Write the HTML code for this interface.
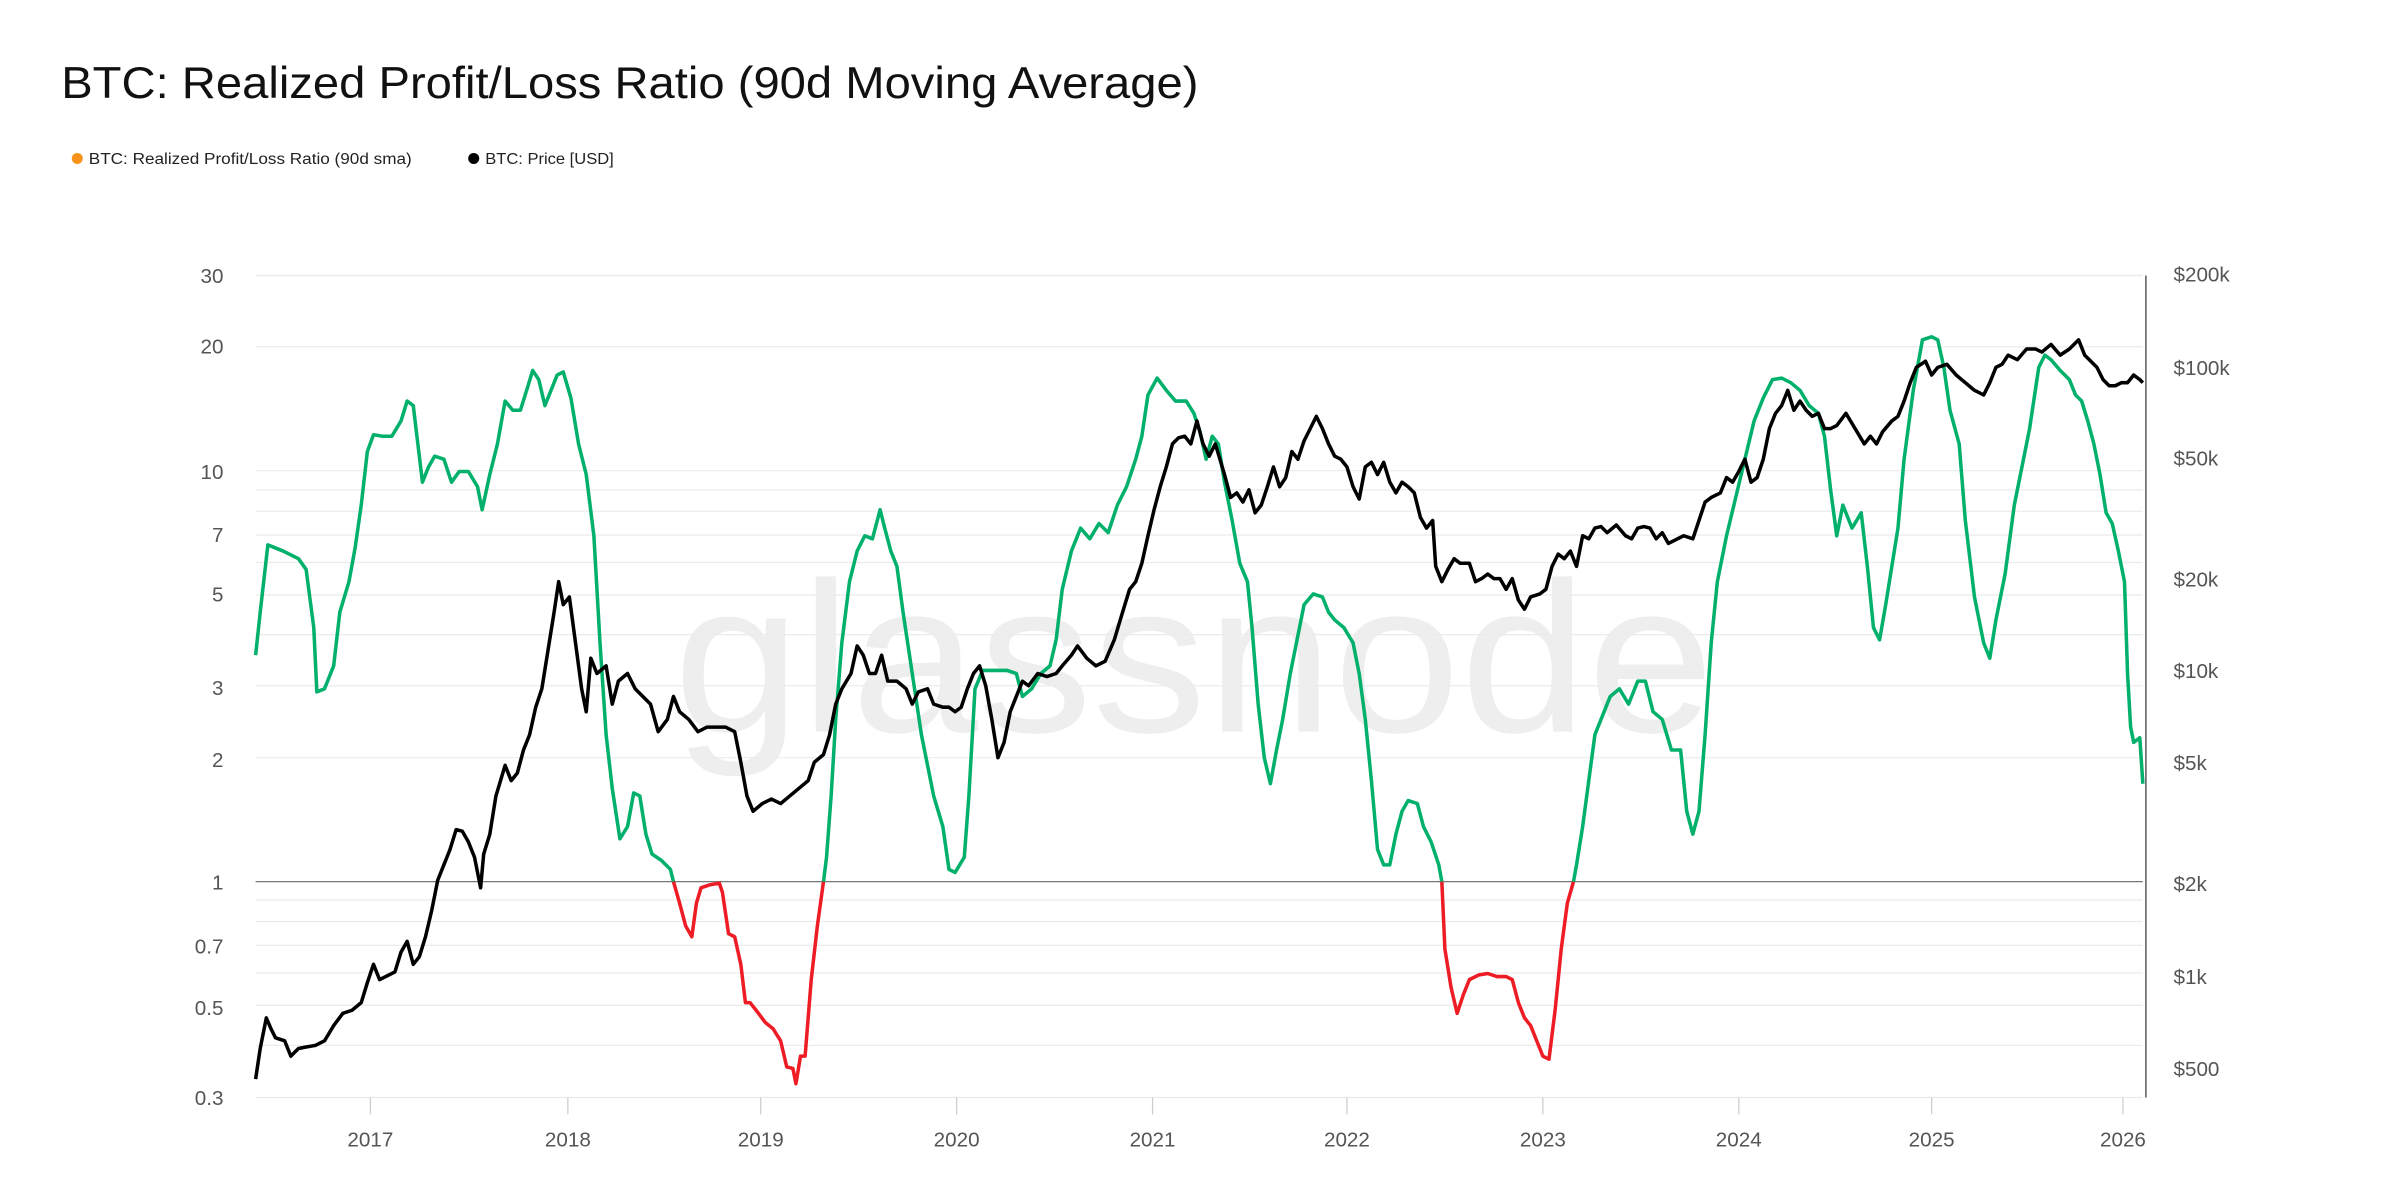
<!DOCTYPE html>
<html><head><meta charset="utf-8"><style>
html,body{margin:0;padding:0;background:#fff;}
svg{display:block;}
text{font-family:"Liberation Sans",sans-serif;}
</style></head><body>
<svg width="2400" height="1184" viewBox="0 0 1568 773.5" xmlns="http://www.w3.org/2000/svg">
<text x="40" y="64" font-size="29" fill="#111" textLength="743" lengthAdjust="spacingAndGlyphs">BTC: Realized Profit/Loss Ratio (90d Moving Average)</text>
<circle cx="50.5" cy="103.5" r="3.6" fill="#f7931a"/>
<text x="58" y="107" font-size="10" fill="#222" textLength="211" lengthAdjust="spacingAndGlyphs">BTC: Realized Profit/Loss Ratio (90d sma)</text>
<circle cx="309.5" cy="103.5" r="3.6" fill="#000"/>
<text x="317" y="107" font-size="10" fill="#222" textLength="84" lengthAdjust="spacingAndGlyphs">BTC: Price [USD]</text>
<text x="780" y="478" font-size="140" fill="#eeeeee" text-anchor="middle" textLength="680" lengthAdjust="spacingAndGlyphs">glassnode</text>
<g stroke="#ebebeb" stroke-width="0.8">
<line x1="167" x2="1400" y1="180" y2="180"/><line x1="167" x2="1400" y1="226.5" y2="226.5"/>
<line x1="167" x2="1400" y1="307.5" y2="307.5"/><line x1="167" x2="1400" y1="320" y2="320"/>
<line x1="167" x2="1400" y1="334" y2="334"/><line x1="167" x2="1400" y1="349.5" y2="349.5"/>
<line x1="167" x2="1400" y1="367.5" y2="367.5"/><line x1="167" x2="1400" y1="388.7" y2="388.7"/>
<line x1="167" x2="1400" y1="414.6" y2="414.6"/><line x1="167" x2="1400" y1="448" y2="448"/>
<line x1="167" x2="1400" y1="495" y2="495"/>
<line x1="167" x2="1400" y1="588" y2="588"/><line x1="167" x2="1400" y1="602" y2="602"/>
<line x1="167" x2="1400" y1="617.6" y2="617.6"/><line x1="167" x2="1400" y1="635.6" y2="635.6"/>
<line x1="167" x2="1400" y1="656.8" y2="656.8"/><line x1="167" x2="1400" y1="683" y2="683"/>
<line x1="167" x2="1400" y1="717" y2="717"/>
</g>
<line x1="167" x2="1400" y1="576" y2="576" stroke="#777" stroke-width="0.8"/>
<line x1="1402" x2="1402" y1="180" y2="717" stroke="#333" stroke-width="0.8"/>
<g stroke="#ccc" stroke-width="0.8">
<line x1="242" x2="242" y1="717" y2="728"/><line x1="371" x2="371" y1="717" y2="728"/><line x1="497" x2="497" y1="717" y2="728"/><line x1="625" x2="625" y1="717" y2="728"/><line x1="753" x2="753" y1="717" y2="728"/><line x1="880" x2="880" y1="717" y2="728"/><line x1="1008" x2="1008" y1="717" y2="728"/><line x1="1136" x2="1136" y1="717" y2="728"/><line x1="1262" x2="1262" y1="717" y2="728"/><line x1="1387" x2="1387" y1="717" y2="728"/>
</g>
<g font-size="13.5" fill="#555" text-anchor="end">
<text x="146" y="185">30</text><text x="146" y="231">20</text><text x="146" y="313">10</text><text x="146" y="354">7</text><text x="146" y="393">5</text><text x="146" y="454">3</text><text x="146" y="501">2</text><text x="146" y="581">1</text><text x="146" y="623">0.7</text><text x="146" y="663">0.5</text><text x="146" y="722">0.3</text>
</g>
<g font-size="13.5" fill="#555">
<text x="1420" y="184">$200k</text><text x="1420" y="245">$100k</text><text x="1420" y="304">$50k</text><text x="1420" y="383">$20k</text><text x="1420" y="443">$10k</text><text x="1420" y="503">$5k</text><text x="1420" y="582">$2k</text><text x="1420" y="643">$1k</text><text x="1420" y="703">$500</text>
</g>
<g font-size="13.5" fill="#555" text-anchor="middle">
<text x="242" y="749">2017</text><text x="371" y="749">2018</text><text x="497" y="749">2019</text><text x="625" y="749">2020</text><text x="753" y="749">2021</text><text x="880" y="749">2022</text><text x="1008" y="749">2023</text><text x="1136" y="749">2024</text><text x="1262" y="749">2025</text><text x="1387" y="749">2026</text>
</g>
<g fill="none" stroke-width="2.3" stroke-linejoin="round">
<polyline stroke="#00b06b" points="167,428 170,400 175,356 185,360 195,365 200,372 205,410 207,452 212,450 218,435 222,400 228,380 232,358 236,330 240,295 244,284 250,285 256,285 262,275 266,262 270,265 273,290 276,315 280,305 284,298 290,300 295,315 300,308 306,308 312,318 315,333 320,310 325,290 330,262 335,268 340,268 345,252 348,242 352,248 356,265 360,255 364,245 368,243 373,260 378,290 383,310 388,350 392,420 396,480 400,515 405,548 410,540 414,518 418,520 422,545 426,558 432,562 438,568 440,576"/>
<polyline stroke="#ee1c25" points="440,576 444,590 448,605 452,612 455,590 458,580 464,578 470,577 472,583 476,610 480,612 484,630 487,655 490,655 494,660 500,668 505,672 510,680 514,697 518,698 520,708 523,690 526,690 530,640 534,605 538,576"/>
<polyline stroke="#00b06b" points="538,576 540,560 543,520 546,470 550,420 555,380 560,360 565,350 570,352 575,333 578,345 582,360 586,370 590,400 596,440 602,480 610,520 616,540 620,568 624,570 630,560 633,520 637,450 642,438 650,438 658,438 664,440 668,455 674,450 680,440 686,435 690,418 694,385 700,360 706,345 712,352 718,342 724,348 730,330 736,318 742,300 746,285 750,258 756,247 762,255 768,262 775,262 780,270 784,282 788,300 792,285 796,290 800,315 805,340 810,368 815,380 818,410 822,460 826,495 830,512 834,490 838,470 843,440 848,415 852,395 858,388 864,390 868,400 872,405 878,410 884,420 888,440 892,470 896,510 900,555 904,565 908,565 912,545 916,530 920,523 926,525 930,540 935,550 940,565 942,576"/>
<polyline stroke="#ee1c25" points="942,576 944,620 948,645 952,662 956,650 960,640 966,637 972,636 978,638 984,638 988,640 992,655 996,665 1000,670 1004,680 1008,690 1012,692 1016,660 1020,620 1024,590 1028,576"/>
<polyline stroke="#00b06b" points="1028,576 1030,565 1034,540 1038,510 1042,480 1046,470 1052,455 1058,450 1064,460 1070,445 1075,445 1080,465 1086,470 1092,490 1098,490 1102,530 1106,545 1110,530 1114,480 1118,420 1122,380 1128,350 1134,325 1140,300 1146,275 1152,260 1158,248 1164,247 1170,250 1176,255 1182,265 1188,270 1192,285 1196,320 1200,350 1204,330 1210,345 1216,335 1220,370 1224,410 1228,418 1232,395 1236,370 1240,345 1244,300 1250,255 1256,222 1262,220 1266,222 1270,240 1274,268 1280,290 1284,340 1290,390 1296,420 1300,430 1304,405 1310,375 1316,330 1322,300 1326,280 1332,240 1336,232 1340,235 1346,242 1352,248 1356,258 1360,262 1364,275 1368,290 1372,310 1376,335 1380,342 1384,360 1388,380 1390,440 1392,475 1394,485 1398,482 1400,512"/>
<polyline stroke="#000" points="167,705 170,685 174,665 177,672 180,678 186,680 190,690 195,685 200,684 206,683 212,680 218,670 224,662 230,660 236,655 240,642 244,630 248,640 252,638 258,635 262,622 266,615 270,630 274,625 278,612 282,595 286,575 290,565 294,555 298,542 302,543 306,550 310,560 314,580 316,558 320,545 324,520 330,500 334,510 338,505 342,490 346,480 350,462 354,450 358,425 362,400 365,380 368,395 372,390 376,420 380,450 383,465 386,430 390,440 396,435 400,460 404,445 410,440 415,450 420,455 425,460 430,478 436,470 440,455 444,465 450,470 456,478 462,475 468,475 474,475 480,478 484,498 488,520 492,530 498,525 504,522 510,525 516,520 522,515 528,510 532,498 538,493 542,480 546,460 550,450 556,440 560,422 564,428 568,440 572,440 576,428 580,445 586,445 592,450 596,460 600,452 606,450 610,460 616,462 620,462 624,465 628,462 632,450 636,440 640,435 644,448 648,470 652,495 656,485 660,465 664,455 668,445 672,448 678,440 684,442 690,440 694,435 700,428 704,422 710,430 716,435 722,432 728,418 734,398 738,385 742,380 746,368 750,350 754,333 758,318 762,305 766,290 770,286 774,285 778,290 782,275 786,290 790,298 794,290 800,310 804,325 808,322 812,328 816,320 820,335 824,330 828,318 832,305 836,318 840,312 844,295 848,300 852,288 856,280 860,272 864,280 868,290 872,298 876,300 880,305 884,318 888,326 892,305 896,302 900,310 904,302 908,315 912,322 916,315 920,318 924,322 928,338 932,345 936,340 938,370 942,380 946,372 950,365 954,368 960,368 964,380 968,378 972,375 976,378 980,378 984,385 988,378 992,392 996,398 1000,390 1006,388 1010,385 1014,370 1018,362 1022,365 1026,360 1030,370 1034,350 1038,352 1042,345 1046,344 1050,348 1056,343 1062,350 1066,352 1070,345 1074,344 1078,345 1082,352 1086,348 1090,355 1096,352 1100,350 1106,352 1110,340 1114,328 1118,325 1124,322 1128,312 1132,315 1136,308 1140,300 1144,315 1148,312 1152,300 1156,280 1160,270 1164,265 1168,255 1172,268 1176,262 1180,268 1184,272 1188,270 1192,280 1196,280 1200,278 1206,270 1212,280 1218,290 1222,285 1226,290 1230,282 1236,275 1240,272 1244,262 1248,250 1252,240 1258,236 1262,245 1266,240 1272,238 1278,245 1284,250 1290,255 1296,258 1300,250 1304,240 1308,238 1312,232 1318,235 1324,228 1330,228 1334,230 1340,225 1346,232 1352,228 1358,222 1362,232 1366,236 1370,240 1374,248 1378,252 1382,252 1386,250 1390,250 1394,245 1398,248 1400,250"/>
</g>
</svg>
</body></html>
